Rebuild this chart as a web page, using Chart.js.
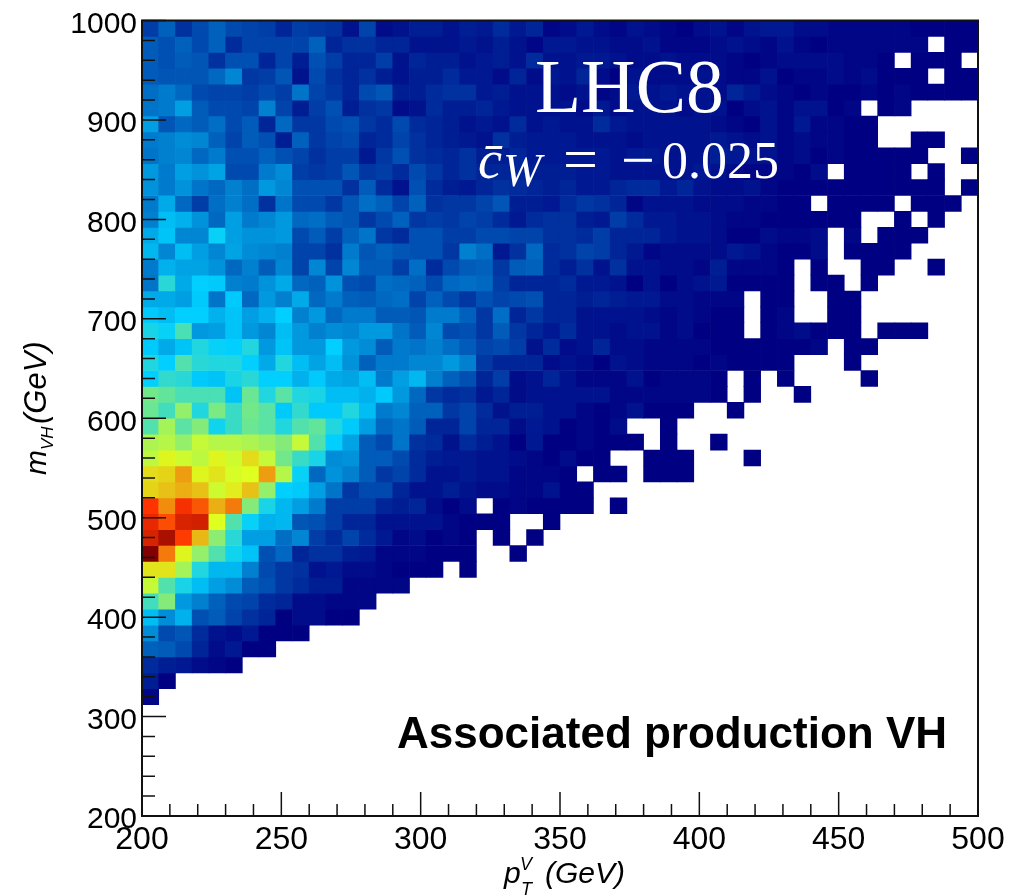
<!DOCTYPE html>
<html>
<head>
<meta charset="utf-8">
<title>mVH vs pT</title>
<script src="https://cdn.jsdelivr.net/npm/chart.js@4"></script>
<style>
  html, body { margin: 0; padding: 0; background: #fff; }
  #wrap { position: relative; width: 1029px; height: 896px; }
</style>
</head>
<body>
<div id="wrap"><canvas id="heatChart"></canvas></div>
<script>
const _ = null;
const X_MIN = 200, X_MAX = 500, X_BIN = 6;
const Y_MIN = 200, Y_MAX = 1000, Y_BIN = 16;
const xMinorStep = 10, xMajorStep = 50;
const yMinorStep = 20, yMajorStep = 100;

// bin content on a 0-100 scale, top row (984-1000 GeV) first, left column first.
// blank bins are null, trailing blanks left out
const binRows = [
  [10,16,8,12,16,12,11,10,6,10,9,8,3,11,2,3,5, 5,3,5,4,7,4,6,1,2,4,2,1,3,2,1,0,2, 3,1,3,4,4,2,2,1,1,1,1,1,0,0,0,0],
  [15,13,16,12,16,7,11,11,11,11,16,6,8,8,6,6,3, 3,3,4,3,5,3,1,4,4,3,3,2,2,3,1,1,1, 2,3,2,1,3,1,0,1,1,1,1,1,1,_,0,0],
  [15,13,15,14,8,13,13,6,11,5,13,10,6,6,10,3,6, 5,5,3,4,5,3,7,3,3,4,4,3,2,2,3,2,2, 2,1,0,1,2,2,2,2,1,1,0,_,0,0,0,_],
  [15,14,14,14,17,22,9,10,14,3,12,8,6,8,5,3,5, 5,7,4,4,2,6,2,4,3,6,2,0,3,2,2,2,3, 2,1,1,3,0,1,1,2,1,2,0,0,0,_,0,0],
  [18,20,17,12,11,11,10,12,10,19,11,9,6,12,14,5,5, 7,8,8,4,5,3,3,3,2,3,1,2,4,3,4,3,3, 2,6,4,2,1,0,1,0,0,1,0,1,0,0,0,0],
  [19,20,26,15,12,12,11,21,11,5,10,13,5,8,9,2,3, 7,5,5,6,4,3,3,3,3,2,4,2,3,3,3,2,3, 3,0,2,3,1,3,3,0,1,_,0,1],
  [26,14,17,15,18,12,15,6,17,9,9,12,13,9,7,12,7, 6,5,3,4,3,7,3,4,3,3,7,4,3,3,3,3,3, 2,1,0,3,1,4,1,1,0,0],
  [20,21,23,22,16,11,15,13,5,16,9,11,12,6,7,11,8, 6,5,4,3,8,5,4,4,4,3,3,3,2,3,3,3,3, 4,3,2,3,1,2,1,1,0,0,_,_,0,0],
  [19,21,22,17,20,13,13,16,13,11,8,10,10,4,9,13,8, 7,6,8,5,5,6,4,4,4,4,4,3,4,4,3,3,3, 5,4,3,3,1,2,0,1,0,0,0,0,0,_,_,0],
  [25,20,26,24,27,12,12,20,23,10,9,10,14,9,10,7,12, 9,6,8,6,6,6,5,5,5,4,4,3,3,3,3,3,4, 3,2,1,1,1,0,2,_,0,0,0,0,_,0],
  [24,20,24,19,17,21,18,25,22,13,13,13,8,15,7,3,13, 7,5,4,6,8,7,6,5,6,4,4,6,7,7,4,6,3, 2,2,3,1,0,0,0,0,0,0,0,0,0,0,_,0],
  [20,28,17,10,18,21,18,8,19,12,12,9,14,18,16,11,16, 8,9,9,11,14,5,5,4,7,9,8,6,1,3,3,3,2, 2,2,1,1,0,0,_,0,0,0,0,_,0,0,0],
  [21,31,29,24,17,26,20,22,25,17,18,15,14,9,12,16,9, 10,9,11,10,7,4,7,8,8,5,4,10,7,4,4,3,3, 2,1,1,0,0,0,0,0,0,_,_,0,_,0],
  [28,32,22,22,35,26,24,24,25,12,15,10,16,19,9,7,13, 13,10,10,12,12,11,11,8,8,7,10,6,6,6,4,3,3, 2,0,0,2,1,1,2,_,1,_,0,0,0],
  [30,22,31,26,22,27,23,22,21,11,11,8,20,14,16,14,13, 13,9,21,18,4,8,17,7,8,11,10,6,4,1,2,2,2, 2,4,3,1,0,0,2,_,0,0,0,0],
  [20,29,27,27,24,17,21,15,22,11,22,11,22,15,15,10,18, 7,12,15,16,9,15,16,7,5,8,3,8,3,3,2,2,1, 5,1,1,1,0,_,0,_,_,0,0,_,_,0],
  [19,39,28,34,33,21,20,24,28,17,16,24,13,12,18,17,16, 12,17,18,17,10,6,6,6,7,4,4,3,0,3,0,2,3, 4,0,0,0,0,_,0,0,_,0],
  [28,28,26,33,19,33,17,25,21,28,17,20,16,15,17,18,11, 16,12,9,13,11,12,13,6,6,5,6,5,4,4,2,2,1, 1,1,_,0,0,_,_,0,0],
  [33,31,34,34,29,32,26,29,34,21,25,17,20,20,15,15,14, 20,20,16,9,18,6,9,6,6,3,3,3,3,2,1,2,1, 0,0,_,0,1,_,_,0,0],
  [37,35,43,25,26,32,25,22,31,25,21,23,22,25,25,19,15, 22,12,13,9,15,9,6,4,7,3,3,2,3,3,1,2,0, 0,0,_,0,1,2,0,0,0,_,0,0,0],
  [33,28,32,38,35,34,38,25,32,25,25,34,25,23,15,20,19, 21,18,15,11,12,10,3,7,2,3,6,2,2,1,1,1,1, 0,0,0,0,0,0,1,_,0,0],
  [38,34,44,39,38,38,34,28,38,31,27,31,24,16,20,20,22, 22,25,21,9,6,6,6,2,3,2,0,3,2,1,1,1,0, 1,0,0,0,0,_,_,_,0],
  [34,40,39,33,32,37,39,34,34,29,33,28,27,31,20,26,30, 21,16,13,6,10,2,3,6,3,1,1,1,3,0,1,1,1, 0,_,0,_,0,_,_,_,_,0],
  [48,46,43,43,43,32,47,38,45,38,37,31,31,29,33,25,17, 9,7,8,4,6,2,3,3,3,3,3,1,1,1,1,1,1, 0,_,0,_,_,0],
  [47,42,52,38,49,41,48,45,33,40,33,33,38,31,20,22,16, 16,9,11,7,3,5,5,3,3,1,0,1,3,0,0,0,_, _,0],
  [44,54,45,50,36,41,47,45,38,44,46,38,33,26,17,19,15, 6,6,11,6,6,2,4,3,0,1,0,2,_,_,0],
  [55,56,52,58,56,56,55,53,50,58,44,34,27,15,12,19,8, 7,3,7,5,3,0,4,0,0,1,0,0,0,_,0,_,_, 0],
  [57,62,59,57,62,59,65,58,48,41,37,23,24,15,15,12,7, 5,4,4,3,3,2,1,0,2,0,0,_,_,0,0,0,_, _,_,0],
  [65,66,72,62,64,60,61,72,56,35,17,24,21,15,9,11,7, 3,3,4,3,3,1,1,1,0,_,0,0,_,0,0,0],
  [66,68,70,68,59,63,68,52,34,33,26,19,9,12,12,6,3, 3,5,3,2,2,1,1,3,0,0],
  [84,74,85,80,70,76,50,37,30,26,20,10,10,10,6,5,6, 2,0,2,_,0,1,0,0,0,0,_,0],
  [87,81,89,90,61,44,35,29,30,14,13,10,6,6,3,3,3, 3,1,0,0,0,_,_,0],
  [89,95,83,69,51,39,26,26,18,22,10,7,11,7,4,1,2, 0,1,0,_,0,_,0],
  [100,76,62,52,44,36,32,13,17,6,8,8,5,4,1,1,1, 0,0,0,_,_,0],
  [64,64,54,38,30,30,21,12,9,8,3,4,2,2,1,0,0, 0,_,0],
  [58,44,37,31,26,23,15,13,9,7,5,5,1,1,1,1],
  [42,50,25,21,16,12,11,7,6,2,2,1,1,1],
  [31,23,29,13,15,11,8,6,0,2,2,0,0],
  [23,12,14,7,3,2,4,0,0,0],
  [16,15,12,6,2,4,0,0],
  [7,5,4,2,1,0],
  [5,0],
  [1],
];

// ROOT rainbow palette stops
const palStops = [0, 34, 61, 84, 100];
const palR = [0, 0, 222, 255, 130];
const palG = [0, 207, 255, 51, 0];
const palB = [130, 255, 31, 0, 0];

function binColor(z) {
  let i = 0;
  while (i < palStops.length - 2 && z > palStops[i + 1]) i++;
  const t = (z - palStops[i]) / (palStops[i + 1] - palStops[i]);
  const mix = (c) => Math.round(c[i] + (c[i + 1] - c[i]) * t);
  return 'rgb(' + mix(palR) + ',' + mix(palG) + ',' + mix(palB) + ')';
}

// one floating-bar dataset per row of bins
const datasets = binRows.map((row, r) => {
  const top = Y_MAX - r * Y_BIN;
  const data = [], colors = [];
  row.forEach((z, c) => {
    if (z === null) return;
    data.push({ x: X_MIN + (c + 0.5) * X_BIN, y: [top - Y_BIN, top] });
    colors.push(binColor(z));
  });
  return { data, backgroundColor: colors, borderWidth: 0 };
});

const FONT = '"Liberation Sans", Arial, Helvetica, sans-serif';
const SERIF = '"Liberation Serif", "Times New Roman", serif';

function put(ctx, text, x, y, font, color) {
  ctx.font = font;
  ctx.fillStyle = color || '#000';
  ctx.fillText(text, x, y);
}

// ROOT style frame with the ticks pointing inward
const framePlugin = {
  id: 'frame',
  afterDatasetsDraw(chart) {
    const { ctx, chartArea: a, scales } = chart;
    ctx.save();
    ctx.strokeStyle = '#111';
    ctx.lineWidth = 1.5;
    ctx.beginPath();
    for (let v = X_MIN; v <= X_MAX; v += xMinorStep) {
      const px = scales.x.getPixelForValue(v);
      ctx.moveTo(px, a.bottom);
      ctx.lineTo(px, a.bottom - (v % xMajorStep === 0 ? 24 : 12));
    }
    for (let v = Y_MIN; v <= Y_MAX; v += yMinorStep) {
      const py = scales.y.getPixelForValue(v);
      ctx.moveTo(a.left, py);
      ctx.lineTo(a.left + (v % yMajorStep === 0 ? 24 : 13), py);
    }
    ctx.stroke();
    ctx.lineWidth = 2;
    ctx.strokeRect(a.left, a.top, a.right - a.left, a.bottom - a.top);
    ctx.restore();
  },
  afterDraw(chart) {
    const { ctx } = chart;
    ctx.save();
    ctx.textAlign = 'left';
    ctx.textBaseline = 'alphabetic';

    put(ctx, 'LHC8', 535, 112, '75.5px ' + SERIF, '#fff');
    put(ctx, 'c\u0304', 478, 178, 'italic 54px ' + SERIF, '#fff');
    put(ctx, 'W', 503, 186, 'italic 46px ' + SERIF, '#fff');
    put(ctx, '=', 563, 180, '62px ' + SERIF, '#fff');
    put(ctx, '\u2212', 621, 180, '60px ' + SERIF, '#fff');
    put(ctx, '0.025', 662, 178, '52px ' + SERIF, '#fff');

    put(ctx, 'Associated production VH', 397, 748, 'bold 44px ' + FONT);

    put(ctx, 'p', 504, 883, 'italic 30px ' + FONT);
    put(ctx, 'V', 520, 870, 'italic 18px ' + FONT);
    put(ctx, 'T', 521, 895, 'italic 18px ' + FONT);
    put(ctx, '(GeV)', 545, 883, 'italic 30px ' + FONT);

    ctx.translate(46, 475);
    ctx.rotate(-Math.PI / 2);
    put(ctx, 'm', 0, 0, 'italic 30px ' + FONT);
    put(ctx, 'VH', 25, 7, 'italic 17px ' + FONT);
    put(ctx, '(GeV)', 51, 0, 'italic 31px ' + FONT);
    ctx.restore();
  },
};

Chart.defaults.font.family = FONT;
Chart.defaults.color = '#000';
Chart.defaults.animation = false;

new Chart(document.getElementById('heatChart'), {
  type: 'bar',
  data: { datasets },
  plugins: [framePlugin],
  options: {
    responsive: true, maintainAspectRatio: false,
    layout: { padding: { top: 20.5, right: 51 } },
    grouped: false,
    barPercentage: 1, categoryPercentage: 1,
    plugins: { legend: { display: false }, tooltip: { enabled: false } },
    scales: {
      x: {
        type: 'linear', min: X_MIN, max: X_MAX, offset: false,
        grid: { display: false, drawTicks: false },
        border: { display: false },
        afterFit: (s) => { s.height = 80; s.paddingLeft = 0; s.paddingRight = 0; },
        ticks: {
          stepSize: xMinorStep, autoSkip: false, maxRotation: 0, padding: 5,
          font: { size: 32 },
          callback: (v) => (v % xMajorStep === 0 ? String(v) : ''),
        },
      },
      y: {
        min: Y_MIN, max: Y_MAX,
        grid: { display: false, drawTicks: false },
        border: { display: false },
        // keep the frame where it is, the top label may overhang it
        afterFit: (s) => { s.width = 142; s.paddingTop = 0; s.paddingBottom = 0; },
        ticks: {
          stepSize: yMinorStep, autoSkip: false, padding: 5, labelOffset: 4,
          font: { size: 30 },
          callback: (v) => (v % yMajorStep === 0 ? String(v) : ''),
        },
      },
    },
  },
});
</script>
</body>
</html>
